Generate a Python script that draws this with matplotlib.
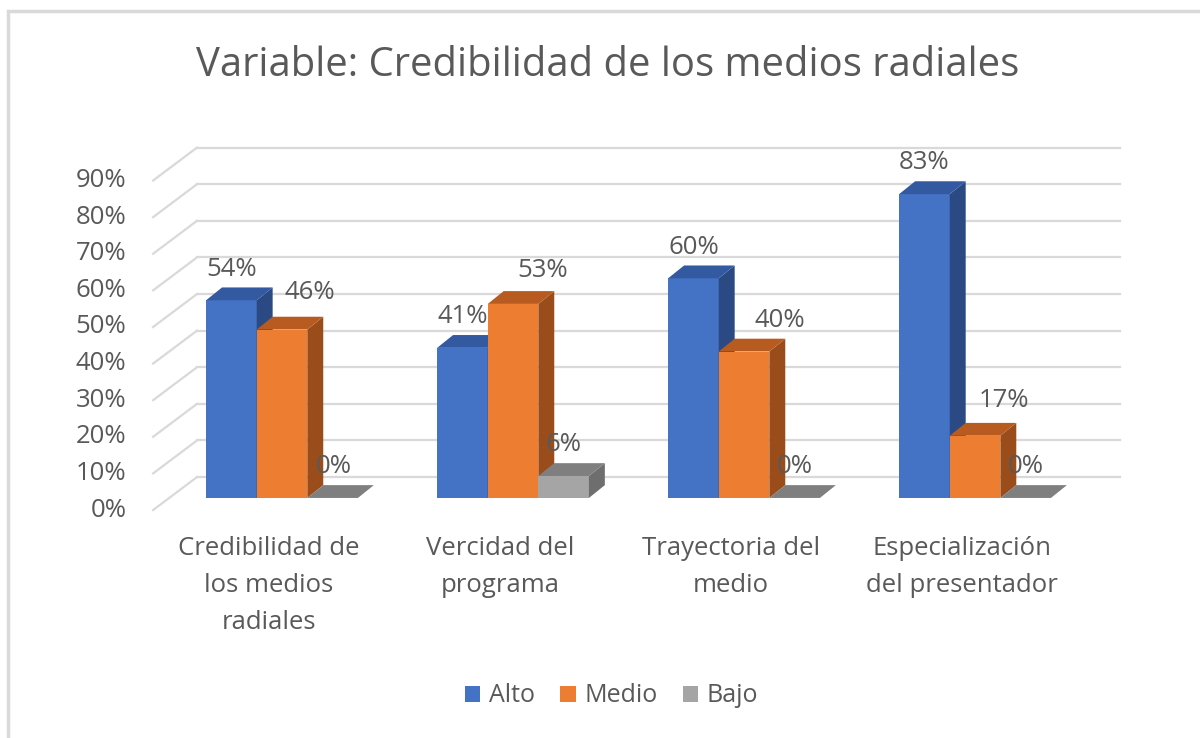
import numpy as np
import matplotlib.pyplot as plt
from matplotlib.patches import Polygon, Patch, Rectangle

plt.rcParams['font.family'] = ['Open Sans', 'DejaVu Sans']

# data
categorias = ['Credibilidad de\nlos medios\nradiales', 'Vercidad del\nprograma',
              'Trayectoria del\nmedio', 'Especialización\ndel presentador']
series = ['Alto', 'Medio', 'Bajo']
alto = [0.54, 0.41, 0.60, 0.83]
medio = [0.46, 0.53, 0.40, 0.17]
bajo = [0.00, 0.06, 0.00, 0.00]
ticks = np.arange(0, 1.0, 0.1)

# colours: front, top, side
col_front = ['#4472C4', '#ED7D31', '#A5A5A5']
col_top = ['#3359A0', '#B85B20', '#7F7F7F']
col_side = ['#2B4A84', '#9A4D1B', '#6E6E6E']
txt = '#595959'

fig = plt.figure(figsize=(12, 7.38), dpi=100)
ax = fig.add_axes([0.05, 0.1328, 0.9, 0.7317])
ax.set_xlim(-0.961, 3.714)
ax.set_ylim(-0.388, 1.087)
ax.axis('off')

# 3d-ish offsets (category units / value units)
bw = 0.219
ddx, ddy = 0.069, 0.035      # bar depth
wdx, wdy = 0.121, 0.057      # back wall from bar plane
fdx, fdy = -0.069, -0.033    # front edge from bar plane
wall_l, wall_r = -0.368, 3.628

# back wall gridlines + floor diagonals
for t in ticks:
    ax.plot([wall_l, wall_r], [t + wdy, t + wdy], color='#D9D9D9', lw=1.6, zorder=1)
    ax.plot([wall_l + fdx - wdx, wall_l], [t + fdy, t + wdy], color='#D9D9D9', lw=1.6, zorder=1)
    ax.text(wall_l + fdx - wdx - 0.115, t + fdy, f'{t*100:.0f}%', ha='right', va='center',
            fontsize=18.5, color=txt)

vals = [alto, medio, bajo]
x = np.arange(len(categorias))
# label shifts Excel applied to avoid overlaps
nudge = {(0, 1): (0.121, 0.015), (1, 1): (0.126, 0.005), (2, 1): (0.156, 0.0),
         (3, 1): (0.126, 0.01), (0, 2): (0.005, 0.0)}
for j in range(3):
    xs = x + (j - 1) * bw
    for i, (xc, v) in enumerate(zip(xs, vals[j])):
        x0, x1 = xc - bw / 2, xc + bw / 2
        zo = 3 + j
        if v > 0:
            ax.bar(xc, v, width=bw, color=col_front[j], zorder=zo, linewidth=0)
            ax.add_patch(Polygon([[x1, 0], [x1 + ddx, ddy], [x1 + ddx, v + ddy], [x1, v]],
                                 closed=True, color=col_side[j], lw=0, zorder=zo))
        ax.add_patch(Polygon([[x0, v], [x1, v], [x1 + ddx, v + ddy], [x0 + ddx, v + ddy]],
                             closed=True, color=col_top[j], lw=0, zorder=zo))
        nx, ny = nudge.get((i, j), (0, 0))
        ax.text(xc + nx, v + 0.085 + ny, f'{v*100:.0f}%', ha='center',
                va='center', fontsize=18.5, color=txt, zorder=10)

for i, c in enumerate(categorias):
    ax.text(x[i] - 0.056, -0.103, c, ha='center', va='top', fontsize=18.5, color=txt,
            linespacing=1.64)

fig.text(0.506, 0.9106, 'Variable: Credibilidad de los medios radiales', ha='center',
         va='center', fontsize=28.8, color=txt)

handles = [Patch(facecolor=c, label=s) for c, s in zip(col_front, series)]
fig.legend(handles=handles, loc='center', bbox_to_anchor=(0.5096, 0.057), ncol=3,
           frameon=False, fontsize=18, handlelength=0.62, handleheight=0.62,
           handletextpad=0.35, columnspacing=1.0, labelcolor=txt)

# chart frame
fig.patches.append(Rectangle((8 / 1200, -0.1), 1.2, 1 - 10.5 / 738 + 0.1, transform=fig.transFigure,
                             fill=False, edgecolor='#D9D9D9', lw=2.5))

fig.savefig('out.png', dpi=100, facecolor='white')
